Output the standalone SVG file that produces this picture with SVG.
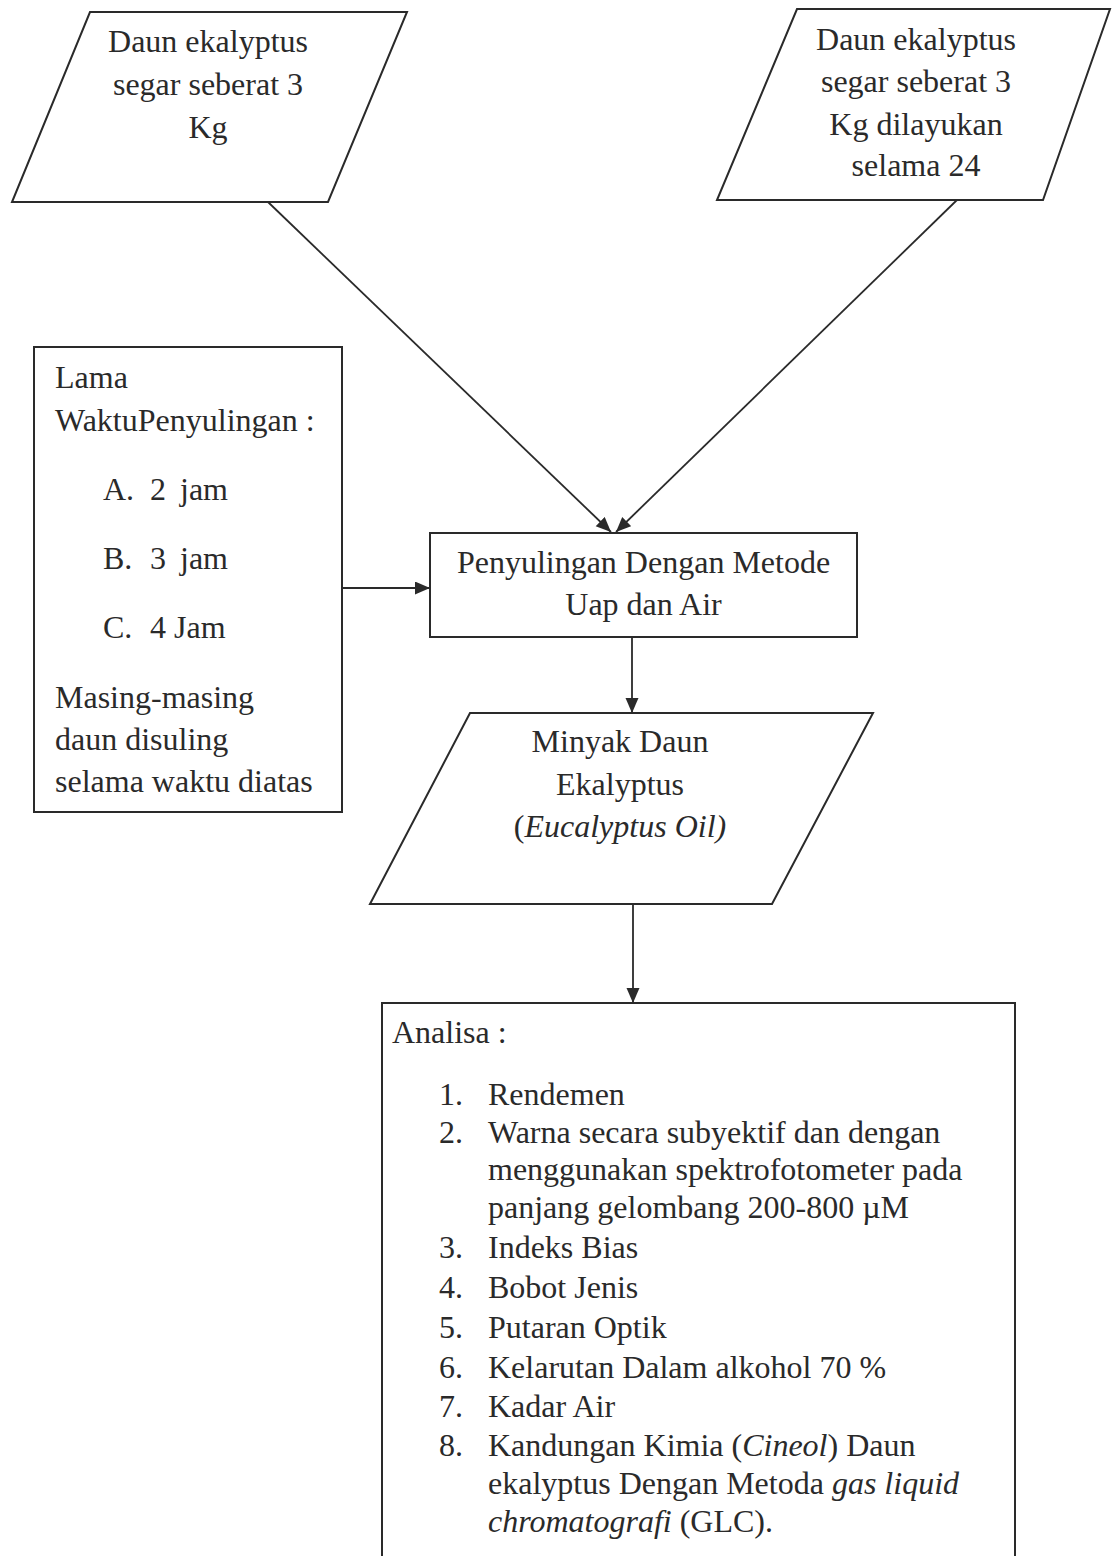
<svg xmlns="http://www.w3.org/2000/svg" width="1115" height="1556" viewBox="0 0 1115 1556">
<style>
.shape{fill:#fff;stroke:#2a2a2a;stroke-width:2}
.t{font-family:"Liberation Serif","Times New Roman",serif;font-size:32px;fill:#2a2a2a}
.c{text-anchor:middle}
.i{font-style:italic}
.conn{stroke:#2a2a2a;stroke-width:1.8;fill:none}
</style>
<defs>
<marker id="ah" markerUnits="userSpaceOnUse" markerWidth="16" markerHeight="14" refX="15" refY="6.5" orient="auto">
<path d="M0,0 L15,6.5 L0,13 z" fill="#2a2a2a"/>
</marker>
</defs>
<rect width="1115" height="1556" fill="#fff"/>
<g id="connectors">
<line class="conn" x1="268" y1="202" x2="611" y2="532" marker-end="url(#ah)"/>
<line class="conn" x1="957" y1="200" x2="616" y2="532" marker-end="url(#ah)"/>
<line class="conn" x1="342" y1="588" x2="430" y2="588" marker-end="url(#ah)"/>
<line class="conn" x1="632" y1="637" x2="632" y2="713" marker-end="url(#ah)"/>
<line class="conn" x1="633" y1="904" x2="633" y2="1003" marker-end="url(#ah)"/>
</g>
<g id="input1">
<polygon class="shape" points="90,12 407,12 328,202 12,202"/>
<text class="t c" x="208" y="52">Daun ekalyptus</text>
<text class="t c" x="208" y="95">segar seberat 3</text>
<text class="t c" x="208" y="138">Kg</text>
</g>
<g id="input2">
<polygon class="shape" points="797,9 1110,9 1043,200 717,200"/>
<text class="t c" x="916" y="50">Daun ekalyptus</text>
<text class="t c" x="916" y="92">segar seberat 3</text>
<text class="t c" x="916" y="135">Kg dilayukan</text>
<text class="t c" x="916" y="176">selama 24</text>
</g>
<g id="waktu">
<rect class="shape" x="34" y="347" width="308" height="465"/>
<text class="t" x="55" y="388">Lama</text>
<text class="t" x="55" y="431">WaktuPenyulingan :</text>
<text class="t" y="500"><tspan x="103">A.</tspan><tspan x="150">2</tspan><tspan x="180">jam</tspan></text>
<text class="t" y="569"><tspan x="103">B.</tspan><tspan x="150">3</tspan><tspan x="180">jam</tspan></text>
<text class="t" y="638"><tspan x="103">C.</tspan><tspan x="150">4 Jam</tspan></text>
<text class="t" x="55" y="708">Masing-masing</text>
<text class="t" x="55" y="750">daun disuling</text>
<text class="t" x="55" y="792">selama waktu diatas</text>
</g>
<g id="penyulingan">
<rect class="shape" x="430" y="533" width="427" height="104"/>
<text class="t c" x="643.5" y="573">Penyulingan Dengan Metode</text>
<text class="t c" x="643.5" y="615">Uap dan Air</text>
</g>
<g id="minyak">
<polygon class="shape" points="470,713 873,713 772,904 370,904"/>
<text class="t c" x="620" y="752">Minyak Daun</text>
<text class="t c" x="620" y="795">Ekalyptus</text>
<text class="t c" x="620" y="837">(<tspan class="i">Eucalyptus Oil)</tspan></text>
</g>
<g id="analisa">
<rect class="shape" x="382" y="1003" width="633" height="570"/>
<text class="t" x="392" y="1043">Analisa :</text>
<text class="t" x="439" y="1105">1.</text><text class="t" x="488" y="1105">Rendemen</text>
<text class="t" x="439" y="1143">2.</text><text class="t" x="488" y="1143">Warna secara subyektif dan dengan</text>
<text class="t" x="488" y="1180">menggunakan spektrofotometer pada</text>
<text class="t" x="488" y="1218">panjang gelombang 200-800 µM</text>
<text class="t" x="439" y="1258">3.</text><text class="t" x="488" y="1258">Indeks Bias</text>
<text class="t" x="439" y="1298">4.</text><text class="t" x="488" y="1298">Bobot Jenis</text>
<text class="t" x="439" y="1338">5.</text><text class="t" x="488" y="1338">Putaran Optik</text>
<text class="t" x="439" y="1378">6.</text><text class="t" x="488" y="1378">Kelarutan Dalam alkohol 70 %</text>
<text class="t" x="439" y="1417">7.</text><text class="t" x="488" y="1417">Kadar Air</text>
<text class="t" x="439" y="1456">8.</text><text class="t" x="488" y="1456">Kandungan Kimia (<tspan class="i">Cineol</tspan>) Daun</text>
<text class="t" x="488" y="1494">ekalyptus Dengan Metoda <tspan class="i">gas liquid</tspan></text>
<text class="t" x="488" y="1532"><tspan class="i">chromatografi</tspan> (GLC).</text>
</g>
</svg>
